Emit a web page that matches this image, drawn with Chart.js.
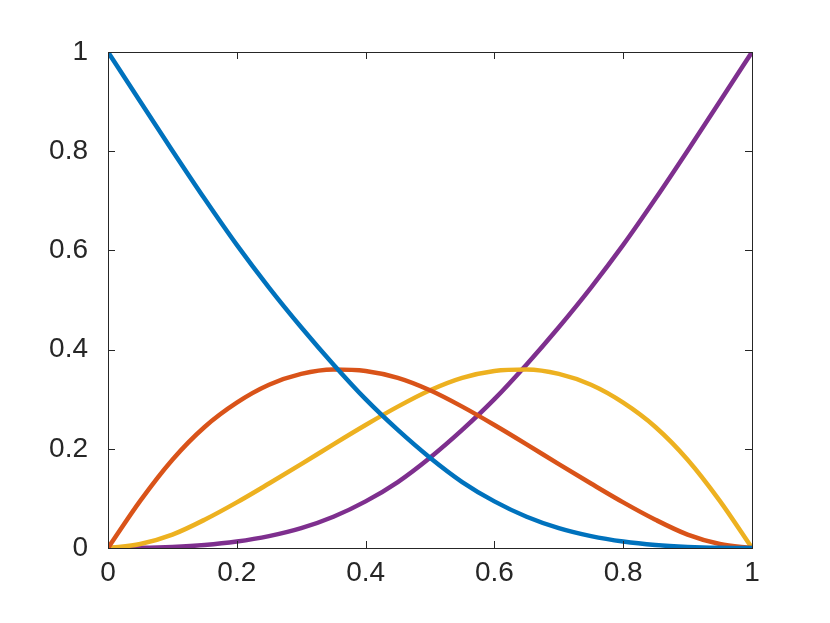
<!DOCTYPE html>
<html>
<head>
<meta charset="utf-8">
<script src="https://cdn.jsdelivr.net/npm/chart.js@4"></script>
<style>
  html, body { margin: 0; padding: 0; background: #fff; }
  #wrap { width: 830px; height: 623px; }
</style>
</head>
<body>
<div id="wrap"><canvas id="myChart" width="830" height="623"></canvas></div>
<script>
// sample positions along x
const xValues = [0, 0.05, 0.1, 0.15, 0.2, 0.25, 0.3, 0.35, 0.4, 0.45, 0.5,
                 0.55, 0.6, 0.65, 0.7, 0.75, 0.8, 0.85, 0.9, 0.95, 1];

// values
const blueValues = [1, 0.900, 0.801, 0.704, 0.611, 0.525, 0.445, 0.370, 0.300, 0.238, 0.182,
                    0.133, 0.094, 0.063, 0.040, 0.024, 0.013, 0.006, 0.0022, 0.0004, 0];
const redValues = [0, 0.095, 0.178, 0.244, 0.293, 0.329, 0.351, 0.360, 0.357, 0.343, 0.318,
                   0.285, 0.248, 0.209, 0.169, 0.130, 0.092, 0.057, 0.027, 0.008, 0];
const yellowValues = [0, 0.008, 0.027, 0.057, 0.092, 0.130, 0.169, 0.209, 0.248, 0.285, 0.318,
                      0.343, 0.357, 0.360, 0.351, 0.329, 0.293, 0.244, 0.178, 0.095, 0];
const purpleValues = [0, 0.0004, 0.0022, 0.006, 0.013, 0.024, 0.040, 0.063, 0.094, 0.133, 0.182,
                      0.238, 0.300, 0.370, 0.445, 0.525, 0.611, 0.704, 0.801, 0.900, 1];

const tickValues = [0, 0.2, 0.4, 0.6, 0.8, 1];

function toPoints(ys) {
    return xValues.map((x, i) => ({ x: x, y: ys[i] }));
}

function series(label, color, ys) {
    return {
        label: label,
        data: toPoints(ys),
        borderColor: color,
        backgroundColor: color,
        borderWidth: 4.5,
        pointRadius: 0,
        cubicInterpolationMode: 'monotone',
        fill: false
    };
}

// box around the plot with inward ticks on all four sides
const boxPlugin = {
    id: 'box',
    afterDraw(chart) {
        const ctx = chart.ctx;
        const a = chart.chartArea;
        const xs = chart.scales.x, ys = chart.scales.y;
        const len = 7;
        ctx.save();
        ctx.strokeStyle = '#262626';
        ctx.lineWidth = 1;
        ctx.beginPath();
        tickValues.forEach(v => {
            const px = Math.round(xs.getPixelForValue(v)) + 0.5;
            ctx.moveTo(px, a.bottom); ctx.lineTo(px, a.bottom - len);
            ctx.moveTo(px, a.top); ctx.lineTo(px, a.top + len);
            const py = Math.round(ys.getPixelForValue(v)) + 0.5;
            ctx.moveTo(a.left, py); ctx.lineTo(a.left + len, py);
            ctx.moveTo(a.right, py); ctx.lineTo(a.right - len, py);
        });
        ctx.stroke();
        ctx.strokeRect(Math.round(a.left) + 0.5, Math.round(a.top) + 0.5,
                       Math.round(a.right - a.left), Math.round(a.bottom - a.top));
        ctx.restore();
    }
};

const tickFont = { family: 'Liberation Sans, Arial, sans-serif', size: 28 };
const fmt = v => String(Math.round(v * 10) / 10);

new Chart('myChart', {
    type: 'line',
    data: {
        datasets: [
            series('blue', '#0072BD', blueValues),
            series('red', '#D95319', redValues),
            series('yellow', '#EDB120', yellowValues),
            series('purple', '#7E2F8E', purpleValues)
        ]
    },
    options: {
        responsive: false,
        animation: false,
        layout: { padding: { top: 52, right: 78, left: 0, bottom: 0 } },
        plugins: { legend: { display: false }, tooltip: { enabled: false } },
        scales: {
            x: {
                type: 'linear',
                min: 0, max: 1,
                afterBuildTicks(scale) { scale.ticks = tickValues.map(v => ({ value: v })); },
                afterFit(scale) { scale.height = 75; },
                grid: { display: false, drawTicks: false },
                border: { display: false },
                ticks: { color: '#262626', font: tickFont, padding: 8, maxRotation: 0, callback: fmt }
            },
            y: {
                type: 'linear',
                min: 0, max: 1,
                afterBuildTicks(scale) { scale.ticks = tickValues.map(v => ({ value: v })); },
                afterFit(scale) { scale.width = 108; },
                grid: { display: false, drawTicks: false },
                border: { display: false },
                ticks: { color: '#262626', font: tickFont, padding: 20, callback: fmt }
            }
        }
    },
    plugins: [boxPlugin]
});
</script>
</body>
</html>
